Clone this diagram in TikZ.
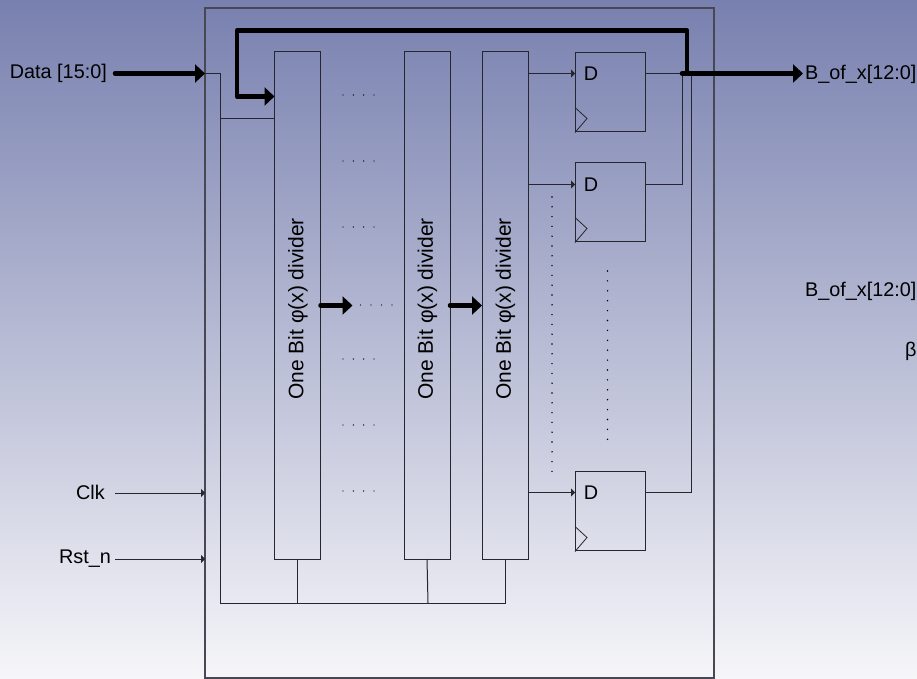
\documentclass[tikz,border=0pt]{standalone}
\usepackage{fontspec}
\setmainfont{Liberation Sans}
\usetikzlibrary{arrows.meta, calc}
\definecolor{bgtop}{RGB}{120,128,175}
\definecolor{bgbot}{RGB}{246,246,249}
\definecolor{wire}{RGB}{38,38,46}
\definecolor{frame}{RGB}{72,72,84}
\tikzset{
  outerbox/.style ={rectangle, draw=frame, line width=1.2pt, inner sep=0pt, outer sep=0pt},
  divblock/.style ={rectangle, draw=wire, line width=1pt, inner sep=0pt, outer sep=0pt,
                    minimum width=46pt, minimum height=507pt},
  ffblock/.style  ={rectangle, draw=wire, line width=1pt, inner sep=0pt, outer sep=0pt,
                    minimum width=70pt, minimum height=79pt},
  sig/.style      ={font=\fontsize{19.8}{22}\selectfont, inner sep=0pt, color=black},
  divtext/.style  ={sig, font=\fontsize{21}{24}\selectfont, rotate=90},
  thin/.style     ={draw=wire, line width=1pt},
  thinarr/.style  ={thin, -{Triangle[length=4pt, width=8pt]}},
  busarr/.style   ={draw=black, line width=4.5pt, line join=round, line cap=round,
                    -{Triangle[length=10pt, width=18pt]}},
  dotmark/.style  ={fill=black},
}
\begin{document}
\begin{tikzpicture}[x=1pt, y=-1pt]
\useasboundingbox (0,0) rectangle (917,679);
\shade[top color=bgtop, bottom color=bgbot] (0,0) rectangle (917,679);
\node[outerbox, minimum width=509pt, minimum height=670pt] (core) at (459.5,343) {};
% row heights and wire bends
\coordinate (rowa) at (0,73.5);
\coordinate (rowb) at (0,184.5);
\coordinate (rowc) at (0,492.5);
\coordinate (rowclk) at (0,493);
\coordinate (rowrst) at (0,559);
\coordinate (rowmid) at (0,305.5);
\coordinate (rowfeed) at (0,118.5);
\coordinate (rowbus) at (0,96.5);
\coordinate (bustop) at (0,30.5);
\coordinate (rowrail) at (0,603);
\coordinate (railx) at (220,0);
\coordinate (busx) at (237,0);
\coordinate (tapx) at (682,0);
\coordinate (outx) at (691,0);
\coordinate (turnx) at (687,0);
% divider columns
\foreach \x/\name in {297.5/a, 427/b, 505/c} {
  \node[divblock] (div\name) at (\x,305.5) {};
  \node[divtext] (divlbl\name) at ([xshift=0.5pt, yshift=-3.5pt]div\name.center) {One Bit φ(x) divider};
}
% flip flops
\foreach \y/\name in {92/a, 202/b, 511/c} {
  \node[ffblock] (ff\name) at (610,\y) {};
  \node[sig] (dlbl\name) at ([xshift=16pt]ff\name.west |- row\name) {D};
  \draw[line width=0.8pt, draw=wire] ([yshift=24pt]ff\name.south west) -- ([xshift=12pt, yshift=13pt]ff\name.south west) -- ([yshift=-1pt]ff\name.south west);
  \draw[thinarr] (divc.east |- row\name) -- (ff\name.west |- row\name);
}
% pin labels
\node[sig, anchor=east] (lbldata) at (107,73.5) {Data [15:0]};
\node[sig, anchor=east] (lblclk) at (105,492.5) {Clk};
\node[sig, anchor=east] (lblrst) at (111,558.5) {Rst\_n};
\node[sig, anchor=west] (lblout) at (805,74) {B\_of\_x[12:0]};
\node[sig, anchor=west] (lblnote) at (805,291) {B\_of\_x[12:0]};
\node[sig, anchor=west] (lblbeta) at (905,351) {β};
% inputs
\draw[busarr] ([xshift=8pt]lbldata.east |- rowa) -- (core.west |- rowa);
\draw[thinarr] ([xshift=10pt]lblclk.east |- rowclk) -- (core.west |- rowclk);
\draw[thinarr] ([xshift=4pt]lblrst.east |- rowrst) -- (core.west |- rowrst);
% reset rail
\draw[thin] (core.west |- rowa) -| (railx |- rowrail) -| (divc.south);
\draw[thin] (railx |- rowfeed) -- (diva.west |- rowfeed);
\draw[thin] (diva.south) -- (diva.south |- rowrail);
\draw[thin] (divb.south) -- ([xshift=1pt]divb.south |- rowrail);
% flip flop outputs
\draw[thin] (ffa.east |- rowa) -- (tapx |- rowa);
\draw[thin] (ffb.east |- rowb) -| (tapx |- rowa);
\draw[thin] (ffc.east |- rowc) -| (outx |- rowa);
% feedback bus and output
\draw[busarr] (turnx |- rowa) -- (turnx |- bustop) -- (busx |- bustop) -- (busx |- rowbus) -- (diva.west |- rowbus);
\draw[busarr] (tapx |- rowa) -- ([xshift=-2pt]lblout.west |- rowa);
% links between dividers
\draw[busarr] (diva.east |- rowmid) -- ([xshift=32pt]diva.east |- rowmid);
\draw[busarr] (divb.east |- rowmid) -- (divc.west |- rowmid);
% dots
\foreach \y in {95,161,227,359,425,491}
  \foreach \x in {343,353.3,363.6,374}
    \fill[dotmark] (\x,\y) circle (0.7);
\foreach \x in {360.5,371,381.5,392}
  \fill[dotmark] (\x,305) circle (0.7);
\foreach \y in {197,206.8,...,472}
  \fill[dotmark] (552,\y) circle (0.8);
\foreach \y in {271,280.9,...,440}
  \fill[dotmark] (607.5,\y) circle (0.8);
\end{tikzpicture}
\end{document}
